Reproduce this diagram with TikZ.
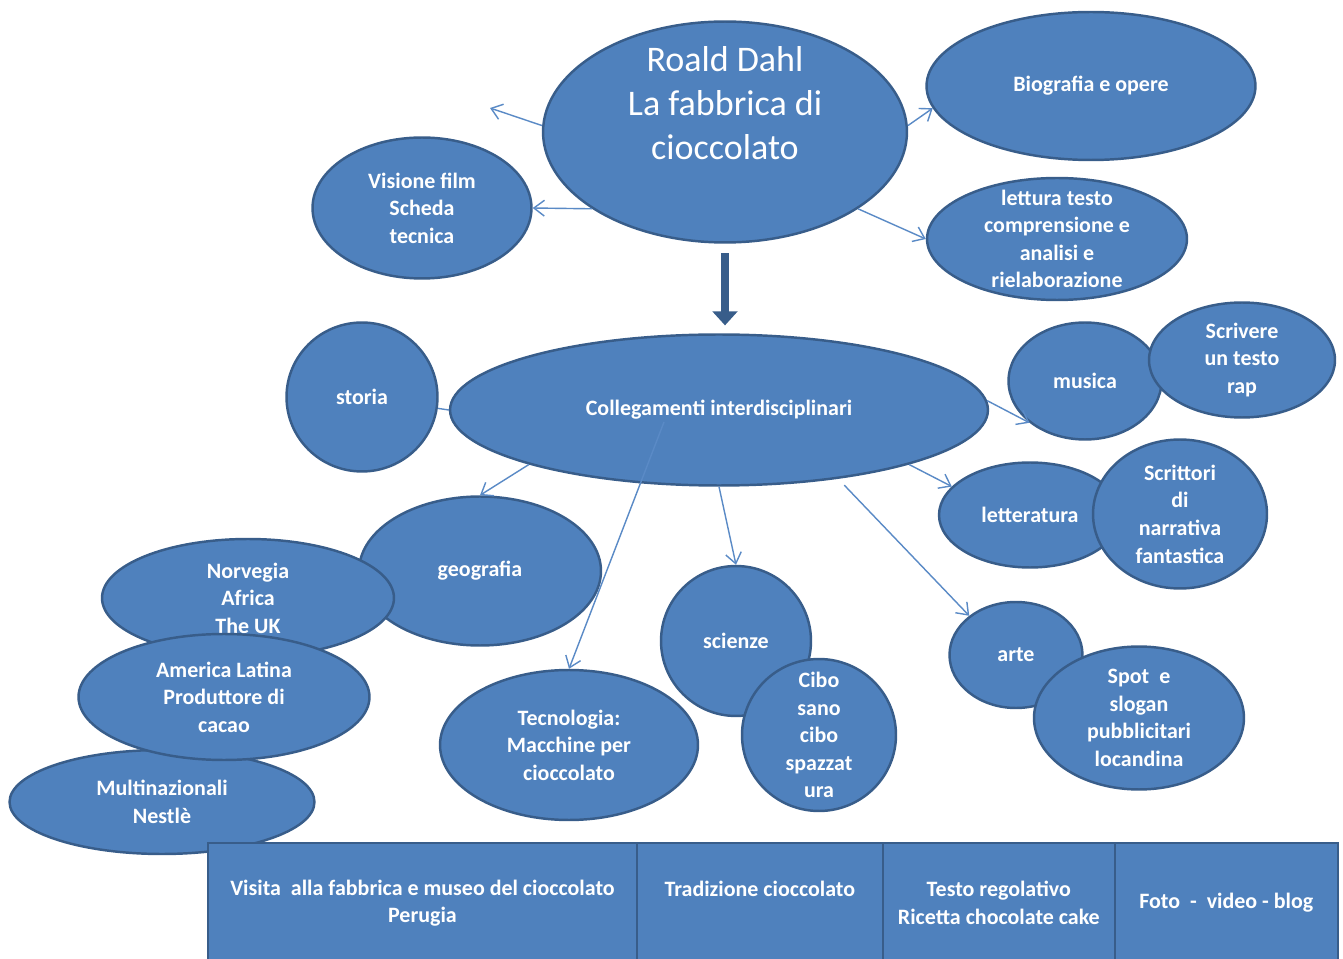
\documentclass[tikz,border=0pt]{standalone}
\usepackage{fontspec}
\setmainfont{Carlito}
\usepackage{tikz}
\usetikzlibrary{shapes.geometric,arrows.meta,positioning}
\definecolor{bubblefill}{HTML}{4F81BD}
\definecolor{bubbleedge}{HTML}{385D8A}
\definecolor{linkblue}{HTML}{5A8AC6}

\begin{document}
\begin{tikzpicture}[x=0.02cm,y=-0.02cm,
    bubble/.style={ellipse,draw=bubbleedge,fill=bubblefill,line width=1.4pt,text=white,align=center,inner sep=-6pt,font=\fontsize{12.5}{15.7}\selectfont\bfseries},
    tile/.style={rectangle,draw=bubbleedge,fill=bubblefill,line width=1.4pt,text=white,align=center,minimum height=2.4cm,inner sep=0pt,outer sep=0pt,font=\fontsize{12.5}{15.7}\selectfont\bfseries},
    link/.style={draw=linkblue,line width=.8pt,-{Straight Barb[length=6pt,width=9pt]}},
    bigarrow/.style={draw=bubbleedge,line width=5pt,-{Triangle[length=8pt,width=14pt]}}]
    \path[use as bounding box,fill=white] (0,0) rectangle (1343,959);
    \node[bubble,minimum width=7.28cm,minimum height=4.42cm,font=\fontsize{20.5}{25}\selectfont] (dahl) at (725,132) {Roald Dahl\\La fabbrica di\\cioccolato\\[8pt]\mbox{}};
    \node[bubble,minimum width=6.58cm,minimum height=2.96cm] (bio) at (1091,86) {Biografia e opere};
    \node[bubble,minimum width=5.2cm,minimum height=2.44cm] (testo) at (1057,239) {lettura testo\\comprensione e\\analisi e\\rielaborazione};
    \node[bubble,minimum width=4.38cm,minimum height=2.82cm] (film) at (422,208) {Visione film\\Scheda\\tecnica};
    \node[bubble,minimum width=10.76cm,minimum height=3.02cm] (coll) at (719,410) {Collegamenti interdisciplinari};
    \node[bubble,minimum width=3.02cm,minimum height=2.98cm] (storia) at (362,397) {storia};
    \node[bubble,minimum width=4.84cm,minimum height=2.98cm] (geo) at (480,571) {geografia};
    \node[bubble,minimum width=5.84cm,minimum height=2.36cm] (paesi) at (248,598) {Norvegia\\Africa\\The UK};
    \node[bubble,minimum width=6.1cm,minimum height=2.08cm] (multi) at (162,802) {Multinazionali\\Nestlè};
    \node[bubble,minimum width=5.82cm,minimum height=2.52cm] (latina) at (224,697) {America Latina\\Produttore di\\cacao};
    \node[bubble,minimum width=5.16cm,minimum height=3cm] (tecno) at (569,745) {Tecnologia:\\Macchine per\\cioccolato};
    \node[bubble,minimum width=3cm,minimum height=3cm] (scienze) at (736,641) {scienze};
    \node[bubble,minimum width=3.08cm,minimum height=3.04cm] (cibo) at (819,735) {Cibo\\sano\\cibo\\spazzat\\ura};
    \node[bubble,minimum width=2.66cm,minimum height=2.12cm] (arte) at (1016,655) {arte};
    \node[bubble,minimum width=4.2cm,minimum height=2.86cm] (spot) at (1139,718) {Spot\ \ e\\slogan\\pubblicitari\\locandina};
    \node[bubble,minimum width=3.06cm,minimum height=2.34cm] (musica) at (1085,381) {musica};
    \node[bubble,minimum width=3.72cm,minimum height=2.3cm] (rap) at (1242,360) {Scrivere\\un testo\\rap};
    \node[bubble,minimum width=3.64cm,minimum height=2.1cm] (lett) at (1030,515) {letteratura};
    \node[bubble,minimum width=3.48cm,minimum height=2.98cm] (scrittori) at (1180,514) {Scrittori\\di\\narrativa\\fantastica};
    \node[tile,minimum width=8.58cm,anchor=north west] (visita) at (208,843) {Visita\ \ alla fabbrica e museo del cioccolato\\Perugia};
    \node[tile,minimum width=4.92cm,right=0pt of visita] (tradiz) {Tradizione cioccolato\\ \mbox{}};
    \node[tile,minimum width=4.64cm,right=0pt of tradiz] (ricetta) {Testo regolativo\\Ricetta chocolate cake};
    \node[tile,minimum width=4.46cm,right=0pt of ricetta] (foto) {Foto\ \ -\ \ video - blog};
    \coordinate (nowhere) at (490,108);
    \coordinate (tecfrom) at (664,422);
    \draw[link] (dahl.178) -- (nowhere);
    \draw[link] (dahl.210) -- (film.east);
    \draw[link] (dahl.2) -- (bio.188);
    \draw[link] (dahl.330) -- (testo.west);
    \draw[bigarrow,shorten <=5.5pt,shorten >=4.5pt] (dahl.south) -- (dahl.south |- coll.north);
    \draw[link,-] (coll.west) -- (storia);
    \draw[link] (coll.196) -- (geo.north);
    \draw[link] (tecfrom) -- (tecno.north);
    \draw[link] (coll.south) -- (scienze.north);
    \draw[link,shorten <=5pt] (coll.330) -- (arte.140);
    \draw[link] (coll.344) -- (lett.160);
    \draw[link] (coll.2) -- (musica.217);
\end{tikzpicture}
\end{document}
